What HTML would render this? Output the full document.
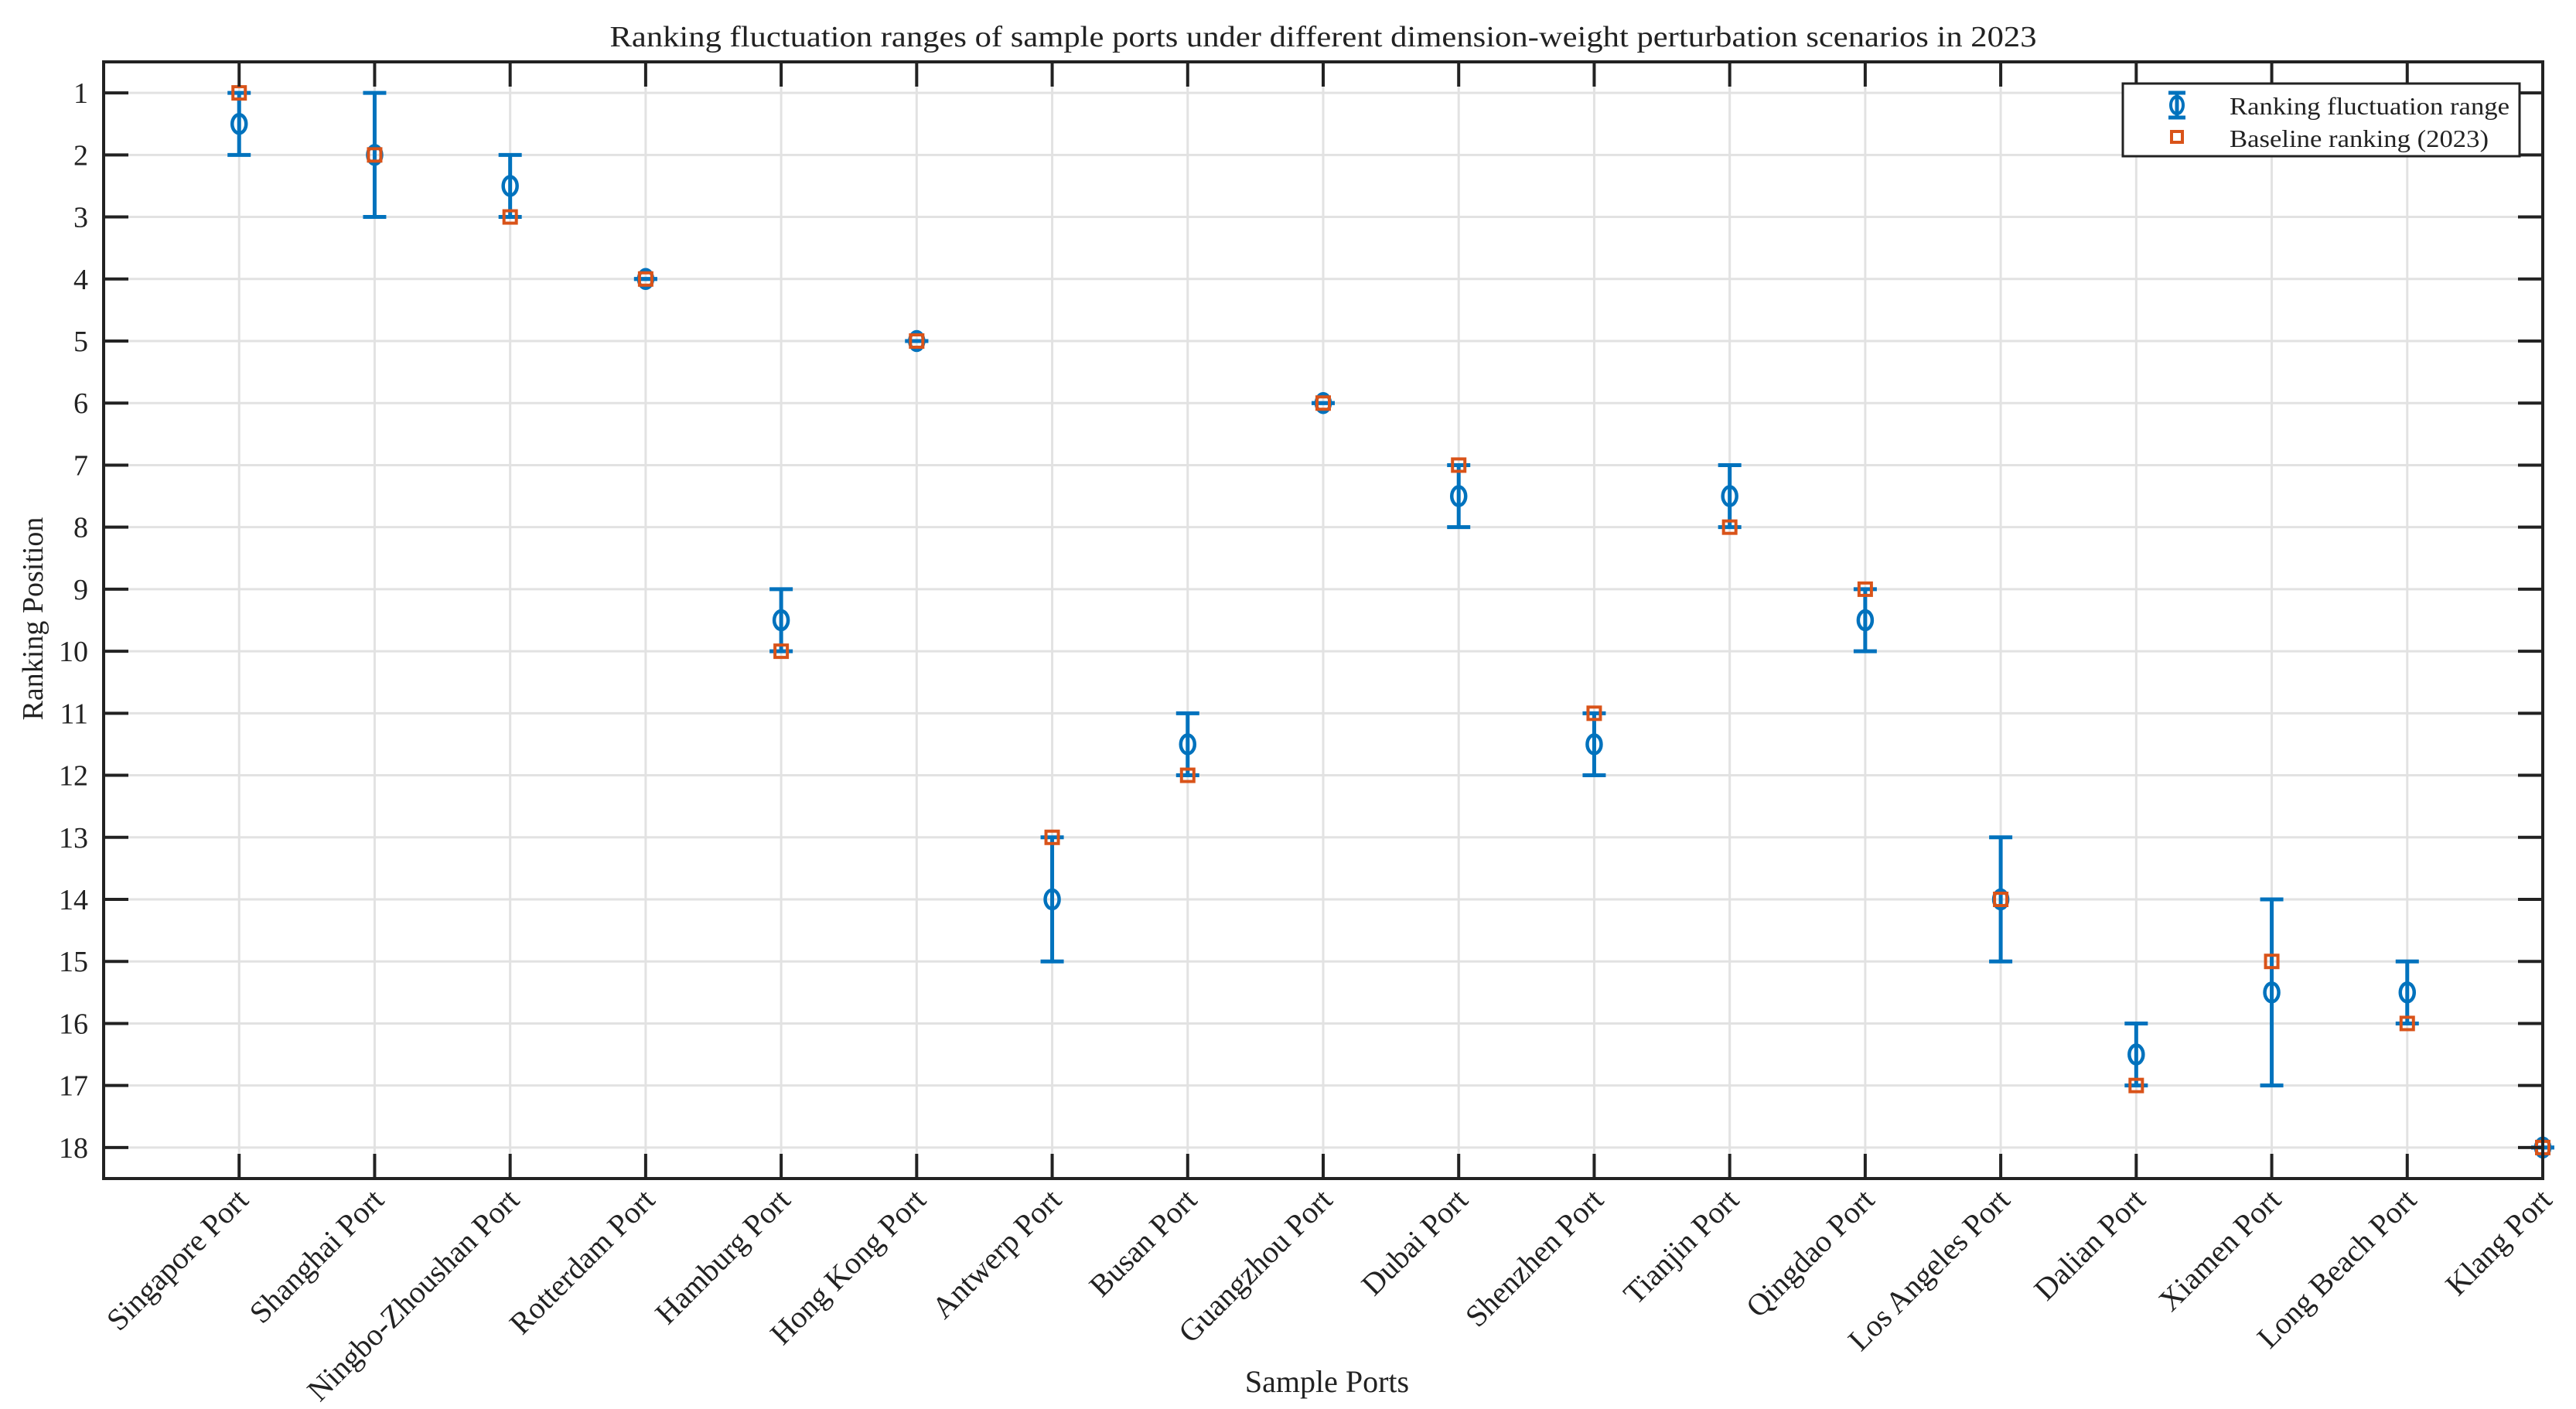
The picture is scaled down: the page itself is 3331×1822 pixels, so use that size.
<!DOCTYPE html>
<html><head><meta charset="utf-8"><style>
html,body{margin:0;padding:0;background:#fff}
svg{display:block}
text{font-family:"Liberation Serif",serif;fill:#222}
</style></head><body>
<svg id="chart" width="3331" height="1822" viewBox="0 0 3331 1822">
<text x="1711" y="60" font-size="38" text-anchor="middle" textLength="1845" lengthAdjust="spacingAndGlyphs">Ranking fluctuation ranges of sample ports under different dimension-weight perturbation scenarios in 2023</text>
<g id="grid"></g><g id="marks"></g><g id="axes"></g>
<text x="1716" y="1800" font-size="40" text-anchor="middle">Sample Ports</text>
<text transform="translate(55,800) rotate(-90)" font-size="38" text-anchor="middle">Ranking Position</text>
<g>
<rect x="2745" y="108" width="513" height="94" fill="#fff" stroke="#222" stroke-width="3"/>
<line x1="2815" y1="120" x2="2815" y2="152" stroke="#0072BD" stroke-width="5"/>
<line x1="2804" y1="120" x2="2826" y2="120" stroke="#0072BD" stroke-width="5"/>
<line x1="2804" y1="152" x2="2826" y2="152" stroke="#0072BD" stroke-width="5"/>
<ellipse cx="2815" cy="136" rx="8" ry="11" fill="none" stroke="#0072BD" stroke-width="4"/>
<rect x="2808" y="170" width="14" height="14" fill="none" stroke="#D95319" stroke-width="4"/>
<text x="2883" y="148" font-size="32" textLength="362" lengthAdjust="spacingAndGlyphs">Ranking fluctuation range</text>
<text x="2883" y="190" font-size="32" textLength="335" lengthAdjust="spacingAndGlyphs">Baseline ranking (2023)</text>
</g>
</svg>
<script>
const ports=["Singapore Port","Shanghai Port","Ningbo-Zhoushan Port","Rotterdam Port","Hamburg Port","Hong Kong Port","Antwerp Port","Busan Port","Guangzhou Port","Dubai Port","Shenzhen Port","Tianjin Port","Qingdao Port","Los Angeles Port","Dalian Port","Xiamen Port","Long Beach Port","Klang Port"];
const rankMin=[1,1,2,4,9,5,13,11,6,7,11,7,9,13,16,14,15,18];
const rankMax=[2,3,3,4,10,5,15,12,6,8,12,8,10,15,17,17,16,18];
const baseline=[1,2,3,4,10,5,13,12,6,7,11,8,9,14,17,15,16,18];
const yTicks=[1,2,3,4,5,6,7,8,9,10,11,12,13,14,15,16,17,18];

const L=134,R=3288,T=80,B=1524;
const xs=i=>L+(i+1)*(R-L)/18;
const ys=v=>T+(v-0.5)*(B-T)/18;
const NS="http://www.w3.org/2000/svg";
function mk(parent,tag,attrs){const e=document.createElementNS(NS,tag);for(const k in attrs)e.setAttribute(k,attrs[k]);parent.appendChild(e);return e;}
const grid=document.getElementById('grid'),marks=document.getElementById('marks'),axes=document.getElementById('axes');

yTicks.forEach(v=>{
 const g=mk(grid,'line',{x1:L,x2:R,y1:ys(v),y2:ys(v),stroke:'#e2e2e2','stroke-width':3});
 
 
 mk(axes,'line',{x1:L,x2:L+32,y1:ys(v),y2:ys(v),stroke:'#222','stroke-width':4});
 mk(axes,'line',{x1:R-32,x2:R,y1:ys(v),y2:ys(v),stroke:'#222','stroke-width':4});
 const t=mk(axes,'text',{x:L-20,y:ys(v)+13,'font-size':38,'text-anchor':'end'});
 t.textContent=v;
 
 
});
ports.forEach((p,i)=>{
 const x=xs(i);
 const g=mk(grid,'line',{x1:x,x2:x,y1:T,y2:B,stroke:'#e2e2e2','stroke-width':3});
 
 
 mk(axes,'line',{x1:x,x2:x,y1:T,y2:T+32,stroke:'#222','stroke-width':4});
 mk(axes,'line',{x1:x,x2:x,y1:B-32,y2:B,stroke:'#222','stroke-width':4});
 const t=mk(axes,'text',{transform:`translate(${x+14},${B+30}) rotate(-45)`,'font-size':40,'text-anchor':'end'});
 t.textContent=p;
 
 

 const eb=mk(marks,'g',{});
 
 
 const y1=ys(rankMin[i]),y2=ys(rankMax[i]),ym=ys((rankMin[i]+rankMax[i])/2);
 mk(eb,'line',{x1:x,x2:x,y1:y1,y2:y2,stroke:'#0072BD','stroke-width':5});
 mk(eb,'line',{x1:x-15,x2:x+15,y1:y1,y2:y1,stroke:'#0072BD','stroke-width':5});
 mk(eb,'line',{x1:x-15,x2:x+15,y1:y2,y2:y2,stroke:'#0072BD','stroke-width':5});
 mk(eb,'ellipse',{cx:x,cy:ym,rx:9,ry:12,fill:'none',stroke:'#0072BD','stroke-width':4.5});
 const s=mk(marks,'rect',{x:x-8,y:ys(baseline[i])-8,width:16,height:16,fill:'none',stroke:'#D95319','stroke-width':4});
 
 
});
const box=mk(axes,'rect',{x:L,y:T,width:R-L,height:B-T,fill:'none',stroke:'#222','stroke-width':4});


</script>
</body></html>
